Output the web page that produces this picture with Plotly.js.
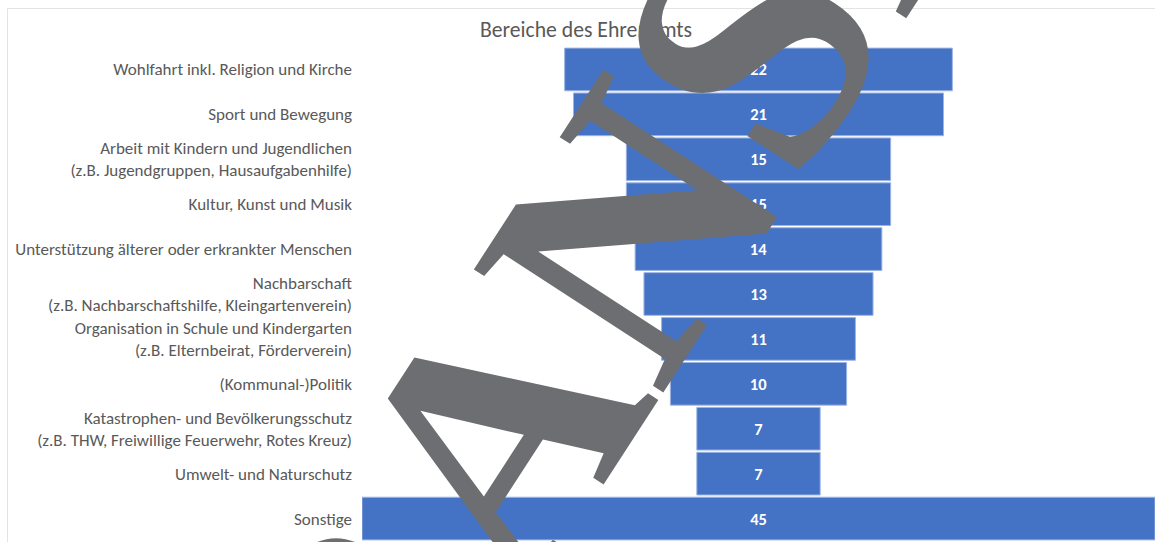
<!DOCTYPE html>
<html>
<head>
<meta charset="utf-8">
<script src="https://cdn.plot.ly/plotly-3.0.1.min.js"></script>
<style>
  html, body { margin: 0; padding: 0; background: #ffffff; }
  #chart { width: 1155px; height: 542px; }
</style>
</head>
<body>
<div id="chart"></div>
<script>
// Data
const categories = [
  "Wohlfahrt inkl. Religion und Kirche",
  "Sport und Bewegung",
  "Arbeit mit Kindern und Jugendlichen<br>(z.B. Jugendgruppen, Hausaufgabenhilfe)",
  "Kultur, Kunst und Musik",
  "Unterstützung älterer oder erkrankter Menschen",
  "Nachbarschaft<br>(z.B. Nachbarschaftshilfe, Kleingartenverein)",
  "Organisation in Schule und Kindergarten<br>(z.B. Elternbeirat, Förderverein)",
  "(Kommunal-)Politik",
  "Katastrophen- und Bevölkerungsschutz<br>(z.B. THW, Freiwillige Feuerwehr, Rotes Kreuz)",
  "Umwelt- und Naturschutz",
  "Sonstige"
];
const values = [22, 21, 15, 15, 14, 13, 11, 10, 7, 7, 45];
const chartTitle = "Bereiche des Ehrenamts";
const watermarkText = "VORANSICHT";

const trace = {
  type: "funnel",
  y: categories,
  x: values,
  orientation: "h",
  marker: { color: "#4472c4", line: { color: "#9db4e3", width: 1 } },
  connector: { visible: false },
  textinfo: "value",
  textposition: "inside",
  insidetextanchor: "middle",
  textfont: { family: "Carlito, Open Sans", size: 16.5, color: "#ffffff", weight: "bold" },
  constraintext: "none",
  hoverinfo: "skip"
};

const L = 362, T = 47, B = 1, W = 1155, H = 542;
const plotW = W - L, plotH = H - T - B;
const px = x => (x - L) / plotW;
const py = y => (H - B - y) / plotH;

const layout = {
  width: W, height: H,
  margin: { l: L, r: 0, t: T, b: B },
  paper_bgcolor: "#ffffff",
  plot_bgcolor: "#ffffff",
  showlegend: false,
  funnelgap: 0.05,
  title: {
    text: chartTitle,
    font: { family: "Carlito, Open Sans", size: 21.7, color: "#595959" },
    xref: "container", x: 586 / W, xanchor: "center",
    yref: "container", y: 1 - 29 / H, yanchor: "middle"
  },
  xaxis: {
    range: [-22.5, 22.5],
    visible: false,
    fixedrange: true
  },
  yaxis: {
    type: "category",
    autorange: "reversed",
    tickmode: "array",
    tickvals: categories,
    ticktext: categories,
    tickfont: { family: "Carlito, Open Sans", size: 17, color: "#595959" },
    ticks: "",
    showline: false,
    showgrid: false,
    zeroline: false,
    ticklabelstandoff: 9,
    fixedrange: true
  },
  shapes: [{
    type: "rect", xref: "paper", yref: "paper",
    x0: px(7.5), x1: px(1200), y0: py(8.5), y1: py(600),
    line: { color: "#e3e3e3", width: 1 },
    fillcolor: "rgba(0,0,0,0)",
    layer: "below"
  }],
  annotations: [{
    text: watermarkText,
    xref: "paper", yref: "paper",
    x: px(648), y: py(203),
    xanchor: "center", yanchor: "middle",
    showarrow: false,
    textangle: -57,
    font: { family: "Liberation Serif", size: 345, color: "#6d6e71", weight: "bold" }
  }]
};

Plotly.newPlot("chart", [trace], layout, { displayModeBar: false, staticPlot: true });
</script>
</body>
</html>
